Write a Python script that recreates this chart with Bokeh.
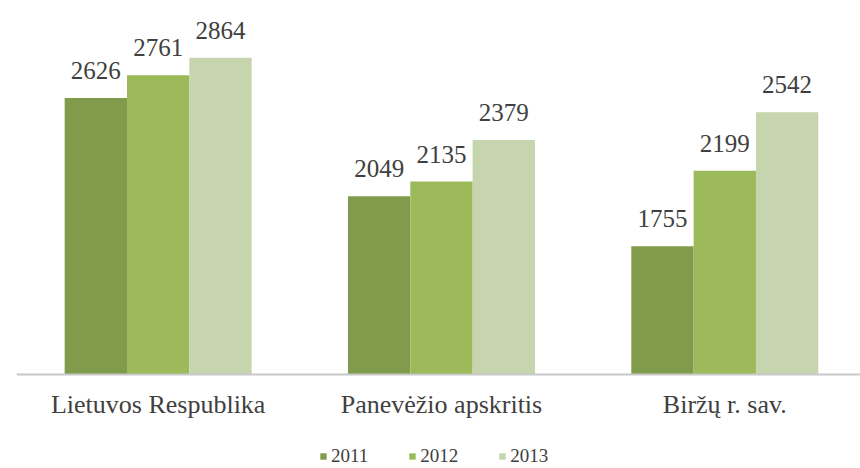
from bokeh.plotting import figure
from bokeh.models import ColumnDataSource, Range1d, Legend, LegendItem, Span
from bokeh.core.properties import value
from bokeh.embed import file_html
from bokeh.resources import INLINE

categories = ["Lietuvos Respublika", "Panevėžio apskritis", "Biržų r. sav."]
years = ["2011", "2012", "2013"]
v2011 = [2626, 2049, 1755]
v2012 = [2761, 2135, 2199]
v2013 = [2864, 2379, 2542]
colors = ["#819b4c", "#9dba5a", "#c6d5ae"]
baseline = 1000  # value axis starts here

series = [v2011, v2012, v2013]
bar_w = 0.22
offsets = [-bar_w, 0.0, bar_w]

p = figure(frame_width=844, frame_height=460, output_backend="svg", toolbar_location=None,
           x_range=Range1d(-0.5, 2.479), y_range=Range1d(447, 3153),
           min_border_left=16, min_border_right=0, min_border_top=8, min_border_bottom=0)
p.outline_line_color = None
p.grid.visible = False
p.xaxis.visible = False
p.yaxis.visible = False
p.background_fill_color = "white"
p.border_fill_color = "white"

font = "Liberation Serif"
items = []
for yi, (yr, vals, col, off) in enumerate(zip(years, series, colors, offsets)):
    xs = [i + off for i in range(len(categories))]
    src = ColumnDataSource(dict(x=xs, top=vals, lab=[str(v) for v in vals]))
    r = p.vbar(x="x", top="top", bottom=baseline, width=bar_w, source=src,
               fill_color=col, line_color=None)
    p.text(x="x", y="top", text="lab", source=src, text_align="center",
           text_baseline="bottom", y_offset=-19, text_font=value(font),
           text_font_size="25px", text_color="#404040")
    items.append(LegendItem(label=yr, renderers=[r]))

p.add_layout(Span(location=baseline, dimension="width", line_color="#c8c8c8", line_width=2))

cat_src = ColumnDataSource(dict(x=list(range(len(categories))), y=[baseline] * len(categories),
                                name=categories))
p.text(x="x", y="y", text="name", source=cat_src, text_align="center",
       text_baseline="middle", y_offset=30, text_font=value(font),
       text_font_size="26px", text_color="#404040")

legend = Legend(items=items, orientation="horizontal", location=(303, 1),
                label_text_font=font, label_text_font_size="19px",
                label_text_color="#404040", glyph_width=8, glyph_height=8,
                spacing=40, label_standoff=4, border_line_color=None,
                background_fill_alpha=0, padding=2, margin=0)
p.add_layout(legend, "center")

open("out.html", "w").write(file_html(p, INLINE))
